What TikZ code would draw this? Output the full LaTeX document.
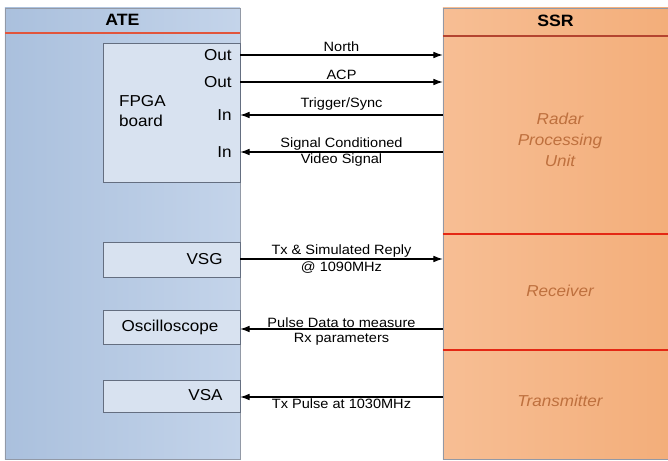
\documentclass[tikz,border=0pt]{standalone}
\usepackage{fontspec}
\setmainfont[FakeStretch=1.08]{Liberation Sans}
\usepackage{tikz}
\usetikzlibrary{arrows.meta,calc,positioning}
\definecolor{ateL}{RGB}{170,192,221}
\definecolor{ateR}{RGB}{196,212,234}
\definecolor{ssrL}{RGB}{247,190,148}
\definecolor{ssrR}{RGB}{243,174,122}
\definecolor{boxfill}{RGB}{216,226,240}
\definecolor{boxline}{RGB}{100,110,128}
\definecolor{hdrred}{RGB}{225,85,60}
\definecolor{divred}{RGB}{228,40,20}
\definecolor{unittxt}{RGB}{190,112,62}
\tikzset{
  panel/.style={draw=boxline!70, inner sep=0pt},
  unit/.style={draw=boxline, fill=boxfill, inner sep=0pt, minimum width=4.11cm},
  port/.style={anchor=east, inner sep=1pt, font=\fontsize{13.5}{14}\selectfont},
  hdr/.style={font=\fontsize{14}{15}\selectfont\bfseries},
  blk/.style={font=\fontsize{13.5}{18}\selectfont\itshape, text=unittxt, align=center},
  sig/.style={-{Latex[length=2.8mm,width=2mm]}, line width=0.9pt},
  lbl/.style={font=\fontsize{11.5}{12}\selectfont, inner sep=0.8pt},
}

\begin{document}
\begin{tikzpicture}[x=0.03cm,y=-0.03cm]
  \useasboundingbox (0,0) rectangle (668,461);
  % --- panels ---
  \node[panel, left color=ateL, right color=ateR, minimum width=7.05cm, minimum height=13.53cm] (ate) at (122.5,233.5) {};
  \node[panel, left color=ssrL, right color=ssrR, minimum width=6.75cm, minimum height=13.53cm] (ssr) at (555.5,233.5) {};
  \node[hdr] (ateT) at (122.5,20) {ATE};
  \node[hdr] (ssrT) at (555.5,21) {SSR};
  \draw[hdrred, line width=1pt] (ate.west |- 0,33) -- (ate.east |- 0,33);
  \draw[hdrred!80!black, line width=1pt] (ssr.west |- 0,36) -- (ssr.east |- 0,36);
  \draw[divred, line width=1.6pt] (ssr.west |- 0,234) -- (ssr.east |- 0,234);
  \draw[divred, line width=1.6pt] (ssr.west |- 0,350) -- (ssr.east |- 0,350);
  \node[blk] (rpu) at (560,140) {Radar\\Processing\\Unit};
  \node[blk] (rx) at (560,291) {Receiver};
  \node[blk] (tx) at (560,401) {Transmitter};
  % --- FPGA board ---
  \node[unit, minimum height=4.17cm] (fpga) at (171.5,112.5) {};
  \node[font=\fontsize{13.5}{17}\selectfont, align=left, anchor=west] (fpgaT) at (115,111) {FPGA\\board};
  \node[port] (outN) at (233,55) {Out};
  \node[port] (outA) at (233,82) {Out};
  \node[port] (inT) at (233,115) {In};
  \node[port] (inV) at (233,152) {In};
  \draw[sig] (outN.east -| fpga.east) -- (outN.east -| ssr.west) node[lbl, midway, above, yshift=2pt] {North};
  \draw[sig] (outA.east -| fpga.east) -- (outA.east -| ssr.west) node[lbl, midway, above, yshift=1pt] {ACP};
  \draw[sig] (inT.east -| ssr.west) -- (inT.east -| fpga.east) node[lbl, midway, above, yshift=3pt] {Trigger/Sync};
  \draw[sig] (inV.east -| ssr.west) -- (inV.east -| fpga.east)
    node[lbl, midway, above] {Signal Conditioned} node[lbl, midway, below] {Video Signal};
  % --- instruments ---
  \node[unit, minimum height=1.05cm] (vsg) at (171.5,259.5) {};
  \node[port] (vsgT) at (224,259) {VSG};
  \node[unit, minimum height=1.02cm] (osc) at (171.5,327) {};
  \node[font=\fontsize{13.5}{14}\selectfont] (oscT) at (170,327) {Oscilloscope};
  \node[unit, minimum height=0.96cm] (vsa) at (171.5,396) {};
  \node[port] (vsaT) at (224,395) {VSA};
  \draw[sig] (vsg.east |- 0,259) -- (ssr.west |- 0,259)
    node[lbl, midway, above] {Tx \& Simulated Reply} node[lbl, midway, below, yshift=-1pt] {@ 1090MHz};
  \draw[sig] (ssr.west |- 0,329) -- (osc.east |- 0,329)
    node[lbl, midway, above] {Pulse Data to measure} node[lbl, midway, below, yshift=-2.5pt] {Rx parameters};
  \draw[sig] (ssr.west |- 0,397) -- (vsa.east |- 0,397)
    node[lbl, midway, below] {Tx Pulse at 1030MHz};
\end{tikzpicture}
\end{document}
